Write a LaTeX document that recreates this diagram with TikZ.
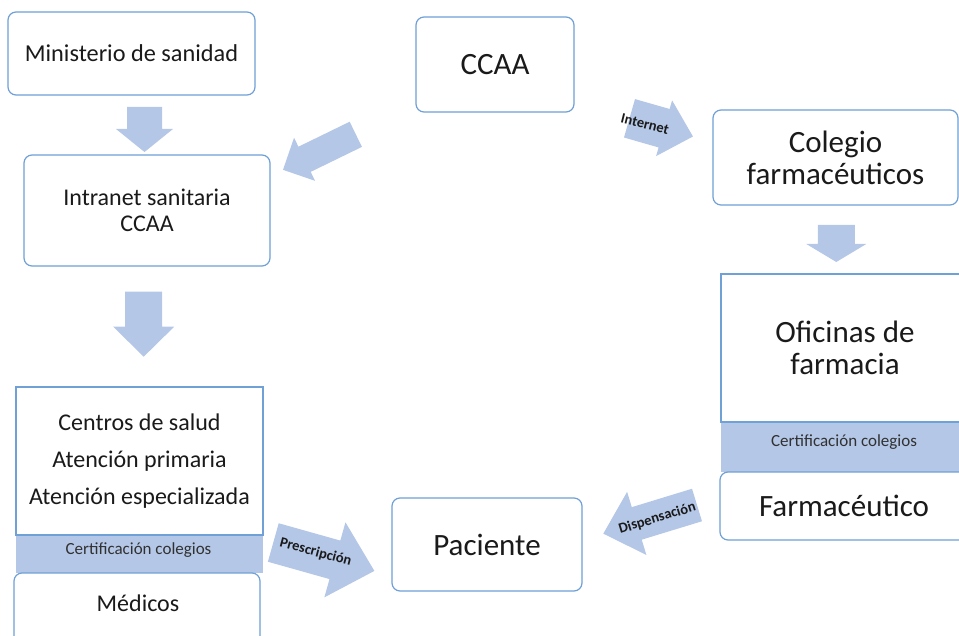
\documentclass[tikz,border=0pt]{standalone}
\usepackage{fontspec}
\setmainfont{Carlito}
\definecolor{boxblue}{HTML}{6FA0D6}
\definecolor{lblue}{HTML}{B4C7E7}
\definecolor{txt}{HTML}{1A1A1A}
% tail centre x, y, angle, length, shaft width, head width, head length
\newcommand{\barrow}[7]{\fill[lblue,shift={(#1,#2)},rotate=#3] (0,{-#5/2}) -- ({#4-#7},{-#5/2}) -- ({#4-#7},{-#6/2}) -- (#4,0) -- ({#4-#7},{#6/2}) -- ({#4-#7},{#5/2}) -- (0,{#5/2}) -- cycle;}
\begin{document}
\begin{tikzpicture}[x=1pt,y=-1pt,
 box/.style={draw=boxblue,line width=1.2pt,rounded corners=8pt,fill=white,inner sep=0pt,align=center,text=txt},
 sqbox/.style={box,rounded corners=0pt},
 band/.style={fill=lblue,inner sep=0pt},
 big/.style={font=\fontsize{31}{32}\selectfont},
 mid/.style={font=\fontsize{24}{26}\selectfont},
 small/.style={font=\fontsize{17}{20}\selectfont,text=txt!90,inner sep=0pt},
 lbl/.style={font=\bfseries\fontsize{14.5}{16}\selectfont,text=txt,inner sep=0pt}]
\useasboundingbox (0,0) rectangle (959,636);

% arrows
\barrow{144.5}{107}{-90}{45}{35}{57}{23}
\barrow{143.7}{291.7}{-90}{65}{37}{61}{30}
\barrow{836.3}{225}{-90}{37}{37}{60}{18}
\barrow{355.8}{134.3}{206}{81}{28}{48}{24}
\barrow{629.5}{118.3}{-16}{66}{40}{58}{30}
\barrow{273.3}{542.5}{-15.7}{105}{40}{78}{41}
\barrow{697}{505}{197}{98}{34}{66}{35}

\node[lbl,rotate=-14] (linternet) at (645,124.3) {Internet};
\node[lbl,rotate=-15] (lpresc) at (315.7,552.3) {Prescripción};
\node[lbl,rotate=17] (ldisp) at (657.3,518.3) {Dispensación};

% top boxes
\node[box,minimum width=247pt,minimum height=83pt,font=\fontsize{24.3}{27}\selectfont] (min) at (131.5,53.5) {Ministerio de sanidad};
\node[box,big,minimum width=158pt,minimum height=95pt] (ccaa) at (495,64.5) {CCAA};
\node[box,mid,minimum width=246pt,minimum height=111pt] (intra) at (147,210.5) {Intranet sanitaria\\CCAA};
\node[box,big,minimum width=245pt,minimum height=95pt] (cole) at (835.5,157.5) {Colegio\\farmacéuticos};

% right stack
\node[band,minimum width=248pt,minimum height=50pt] (bandr) at (845,447) {};
\node[sqbox,big,minimum width=248pt,minimum height=148pt] (ofic) at (845,348) {Oficinas de\\farmacia};
\node[small] (bandrt) at (844,442) {Certificación colegios};
\node[box,big,minimum width=248pt,minimum height=68pt] (farm) at (844,506) {Farmacéutico};

% left stack
\node[band,minimum width=247pt,minimum height=38pt] (bandl) at (139.5,554) {};
\node[sqbox,font=\fontsize{24}{37}\selectfont,minimum width=247pt,minimum height=148pt] (cent) at (139.5,461) {Centros de salud\\Atención primaria\\Atención especializada};
\node[small] (bandlt) at (138.5,550) {Certificación colegios};
\node[box,minimum width=246pt,minimum height=77pt] (med) at (137,611.5) {};
\node[mid,text=txt] (medt) at (138,603) {Médicos};

% patient
\node[box,big,minimum width=190pt,minimum height=93pt] (pac) at (487,544.5) {Paciente};
\end{tikzpicture}
\end{document}
